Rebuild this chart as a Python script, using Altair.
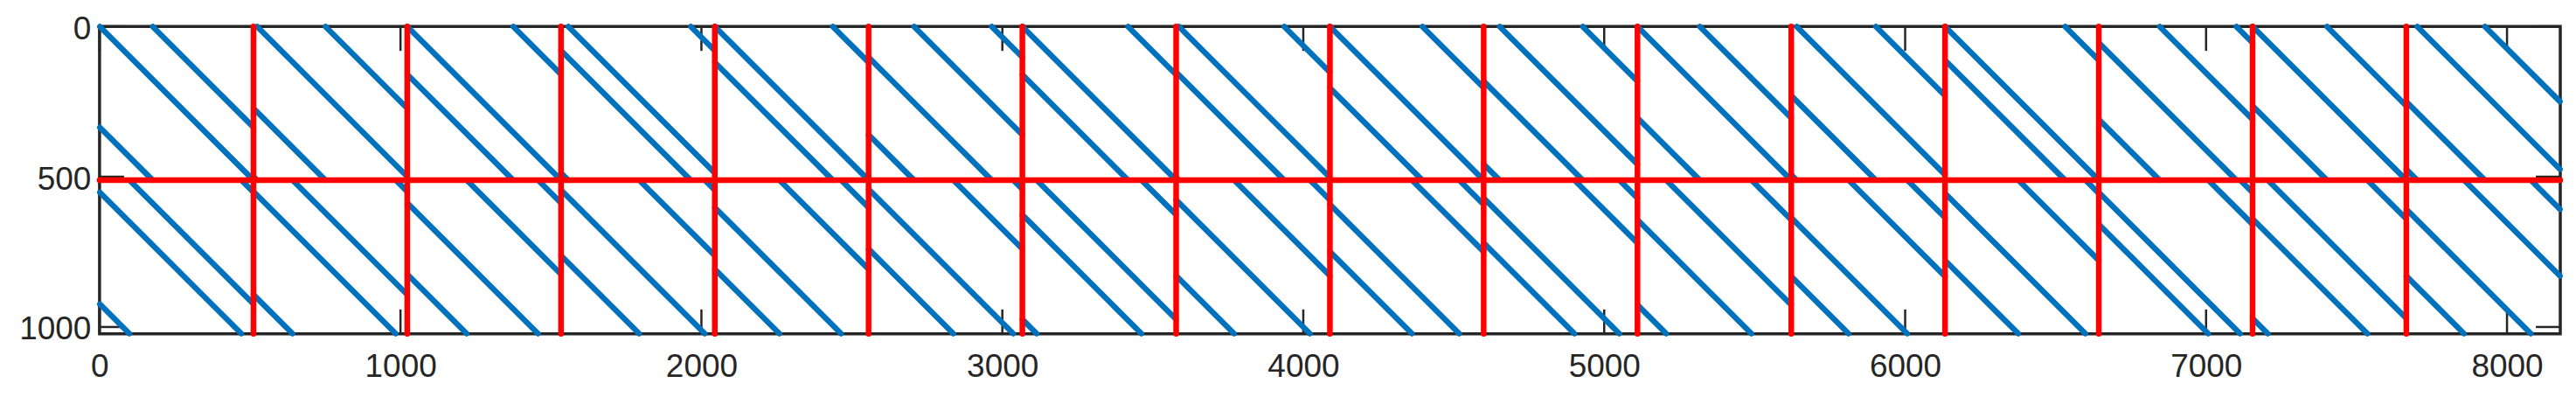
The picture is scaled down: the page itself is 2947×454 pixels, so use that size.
import altair as alt
import pandas as pd

# CCSDS C2 LDPC parity-check matrix (2 x 16 circulants of size 511, two ones per row)
circ_size = 511
n_rows = 1022
n_cols = 8176

# positions of the two ones in the first row of each circulant
row1_first = [0, 12, 0, 24, 0, 151, 0, 9, 0, 53, 0, 18, 0, 202, 0, 36]
row1_second = [176, 239, 352, 431, 392, 409, 351, 359, 307, 329, 207, 281, 399, 457, 247, 261]
row2_first = [99, 130, 198, 260, 215, 282, 48, 193, 273, 302, 96, 191, 244, 364, 51, 192]
row2_second = [471, 473, 435, 478, 420, 481, 396, 445, 430, 451, 379, 386, 467, 470, 382, 414]

xtick_values = [0, 1000, 2000, 3000, 4000, 5000, 6000, 7000, 8000]
ytick_values = [0, 500, 1000]

W, H = 2818, 352
TICK = 28

shifts = [(0, row1_first), (0, row1_second), (1, row2_first), (1, row2_second)]
segs = []
for bi, lst in shifts:
    for bj, p in enumerate(lst):
        r0 = circ_size * bi
        c0 = circ_size * bj
        # main diagonal part
        segs.append({"x": c0 + p + 1, "y": r0 + 1, "x2": c0 + circ_size, "y2": r0 + circ_size - p})
        # wrapped part
        if p > 0:
            segs.append({"x": c0 + 1, "y": r0 + circ_size + 1 - p, "x2": c0 + p, "y2": r0 + circ_size})
seg_df = pd.DataFrame(segs)

red = []
for k in range(1, n_cols // circ_size):
    xv = circ_size * k + 0.5
    red.append({"x": xv, "y": 0, "x2": xv, "y2": n_rows + 1})
red.append({"x": 0, "y": circ_size + 0.5, "x2": n_cols + 1, "y2": circ_size + 0.5})
red_df = pd.DataFrame(red)

xs = alt.Scale(domain=[0, n_cols + 1], nice=False, zero=False)
ys = alt.Scale(domain=[0, n_rows + 1], reverse=True, nice=False, zero=False)

ax_x = alt.Axis(values=xtick_values, format="d", title=None, labelPadding=20, labelFlush=False,
                labelOverlap=False, ticks=False, tickSize=0, domain=False, grid=False,
                labelFont="Liberation Sans", labelFontSize=37, labelColor="#262626")
ax_y = alt.Axis(values=ytick_values, format="d", title=None, labelPadding=10, labelOverlap=False,
                labelOffset=3, ticks=False, tickSize=0, domain=False, grid=False,
                labelFont="Liberation Sans", labelFontSize=37, labelColor="#262626")

X = alt.X("x:Q", scale=xs, axis=ax_x)
Y = alt.Y("y:Q", scale=ys, axis=ax_y)

tc = "#262626"
xt = pd.DataFrame({"x": xtick_values})
yt = pd.DataFrame({"y": ytick_values})

xt_top = alt.Chart(xt).mark_rule(color=tc, strokeWidth=2.5).encode(
    x=X, y=alt.value(0), y2=alt.value(TICK))
xt_bot = alt.Chart(xt).mark_rule(color=tc, strokeWidth=2.5).encode(
    x=X, y=alt.value(H - TICK), y2=alt.value(H))
yt_left = alt.Chart(yt).mark_rule(color=tc, strokeWidth=2.5).encode(
    y=Y, x=alt.value(0), x2=alt.value(TICK))
yt_right = alt.Chart(yt).mark_rule(color=tc, strokeWidth=2.5).encode(
    y=Y, x=alt.value(W - TICK), x2=alt.value(W))

blue = alt.Chart(seg_df).mark_rule(color="#0072BD", strokeWidth=6.5, strokeCap="round").encode(
    x=X, x2="x2:Q", y=Y, y2="y2:Q")

redl = alt.Chart(red_df).mark_rule(color="#FF0000", strokeWidth=6.5, strokeCap="round").encode(
    x=X, x2="x2:Q", y=Y, y2="y2:Q")

chart = alt.layer(xt_top, xt_bot, yt_left, yt_right, blue, redl).properties(
    width=W, height=H, autosize="none",
    padding={"left": 106, "top": 22, "right": 10, "bottom": 60},
).configure_view(stroke="#262626", strokeWidth=3.5)

chart.save("out.html", embed_options={"renderer": "svg", "actions": False})
